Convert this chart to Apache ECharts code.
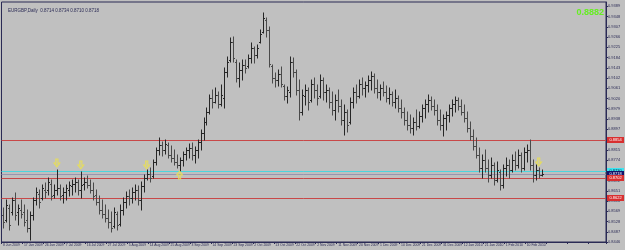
<!DOCTYPE html>
<html>
<head>
<meta charset="utf-8">
<script src="https://cdn.jsdelivr.net/npm/echarts@6/dist/echarts.min.js"></script>
<style>
  html, body { margin: 0; padding: 0; background: #c0c0c0; }
  #chart { width: 625px; height: 250px; }
</style>
</head>
<body>
<div id="chart"></div>
<script>
// EURGBP daily bars
var firstDay = '2009-06-08';
var holidays = ['2009-12-25', '2010-01-01'];
var emptySlots = 21; // chart shift on the right

var openVals = [
  0.8554,0.8534,0.8582,0.8566,0.8614,0.8566,0.8574,0.8566,0.8534,0.8502,
  0.8554,0.8614,0.8638,0.8622,0.8654,0.8654,0.8678,0.8634,0.8654,0.8662,
  0.8634,0.8646,0.8654,0.8670,0.8678,0.8686,0.8654,0.8678,0.8686,0.8674,
  0.8654,0.8634,0.8606,0.8574,0.8558,0.8542,0.8526,0.8510,0.8558,0.8518,
  0.8574,0.8606,0.8630,0.8622,0.8646,0.8654,0.8614,0.8670,0.8702,0.8718,
  0.8710,0.8766,0.8814,0.8834,0.8814,0.8834,0.8794,0.8782,0.8766,0.8754,
  0.8774,0.8798,0.8814,0.8822,0.8794,0.8814,0.8846,0.8882,0.8926,0.8966,
  0.9022,0.9006,0.9034,0.8998,0.9022,0.9126,0.9174,0.9246,0.9166,0.9102,
  0.9134,0.9154,0.9150,0.9182,0.9222,0.9194,0.9246,0.9286,0.9334,0.9294,
  0.9150,0.9102,0.9094,0.9118,0.9070,0.9030,0.9046,0.9166,0.9126,0.9054,
  0.8966,0.9030,0.9054,0.9014,0.9078,0.9054,0.9030,0.9094,0.9046,0.9054,
  0.9006,0.8974,0.9014,0.8990,0.8934,0.8966,0.8926,0.9006,0.9046,0.9030,
  0.9078,0.9062,0.9074,0.9094,0.9110,0.9062,0.9046,0.9062,0.9046,0.9022,
  0.9038,0.9006,0.9022,0.8982,0.8966,0.8934,0.8914,0.8902,0.8926,0.8910,
  0.8950,0.8982,0.8998,0.9014,0.8990,0.8974,0.8934,0.8914,0.8942,0.8954,
  0.8982,0.8998,0.9014,0.8990,0.8966,0.8942,0.8902,0.8870,0.8830,0.8794,
  0.8742,0.8774,0.8742,0.8714,0.8754,0.8694,0.8726,0.8674,0.8742,0.8754,
  0.8734,0.8774,0.8754,0.8794,0.8742,0.8806,0.8814,0.8754,0.8714,0.8734,0.8714
];
var highVals = [
  0.8582,0.8614,0.8594,0.8622,0.8642,0.8594,0.8614,0.8594,0.8574,0.8566,
  0.8622,0.8662,0.8654,0.8674,0.8682,0.8702,0.8694,0.8674,0.8734,0.8674,
  0.8662,0.8674,0.8686,0.8694,0.8702,0.8694,0.8726,0.8702,0.8710,0.8694,
  0.8682,0.8654,0.8630,0.8614,0.8594,0.8574,0.8566,0.8582,0.8566,0.8594,
  0.8622,0.8646,0.8654,0.8662,0.8674,0.8670,0.8686,0.8714,0.8734,0.8742,
  0.8774,0.8822,0.8862,0.8846,0.8854,0.8842,0.8830,0.8814,0.8794,0.8782,
  0.8806,0.8822,0.8838,0.8842,0.8826,0.8854,0.8894,0.8942,0.8982,0.9034,
  0.9054,0.9062,0.9046,0.9074,0.9142,0.9186,0.9262,0.9266,0.9174,0.9162,
  0.9174,0.9174,0.9194,0.9242,0.9226,0.9234,0.9294,0.9362,0.9342,0.9306,
  0.9154,0.9122,0.9134,0.9146,0.9074,0.9066,0.9186,0.9182,0.9134,0.9094,
  0.9054,0.9074,0.9062,0.9094,0.9102,0.9074,0.9114,0.9102,0.9074,0.9062,
  0.9046,0.9034,0.9054,0.9014,0.8994,0.8974,0.9022,0.9062,0.9074,0.9094,
  0.9102,0.9086,0.9110,0.9126,0.9118,0.9094,0.9074,0.9086,0.9070,0.9062,
  0.9046,0.9054,0.9030,0.9014,0.8982,0.8966,0.8954,0.8942,0.8974,0.8966,
  0.8994,0.9014,0.9034,0.9026,0.9014,0.8994,0.8974,0.8954,0.8966,0.8994,
  0.9014,0.9026,0.9022,0.9014,0.8994,0.8966,0.8926,0.8894,0.8862,0.8822,
  0.8794,0.8814,0.8774,0.8782,0.8762,0.8766,0.8734,0.8754,0.8782,0.8774,
  0.8794,0.8806,0.8814,0.8802,0.8822,0.8834,0.8854,0.8774,0.8754,0.8742,0.8734
];
var lowVals = [
  0.8502,0.8526,0.8494,0.8554,0.8534,0.8514,0.8542,0.8510,0.8486,0.8454,
  0.8534,0.8594,0.8582,0.8614,0.8622,0.8634,0.8614,0.8622,0.8634,0.8614,
  0.8602,0.8614,0.8630,0.8634,0.8646,0.8634,0.8622,0.8654,0.8662,0.8642,
  0.8614,0.8594,0.8558,0.8542,0.8526,0.8502,0.8486,0.8502,0.8494,0.8510,
  0.8554,0.8582,0.8594,0.8602,0.8614,0.8594,0.8574,0.8646,0.8694,0.8686,
  0.8702,0.8754,0.8794,0.8790,0.8798,0.8782,0.8766,0.8754,0.8742,0.8730,
  0.8750,0.8774,0.8782,0.8774,0.8762,0.8782,0.8814,0.8854,0.8914,0.8958,
  0.8982,0.9002,0.8982,0.8990,0.8982,0.9106,0.9166,0.9166,0.9086,0.9066,
  0.9094,0.9122,0.9142,0.9162,0.9162,0.9182,0.9242,0.9282,0.9266,0.9146,
  0.9082,0.9066,0.9070,0.9066,0.9014,0.9002,0.9026,0.9106,0.9034,0.8934,
  0.8954,0.8994,0.8974,0.9006,0.9022,0.8994,0.9022,0.9014,0.9006,0.8982,
  0.8954,0.8934,0.8966,0.8914,0.8874,0.8886,0.8918,0.8982,0.9002,0.9022,
  0.9034,0.9026,0.9046,0.9054,0.9042,0.9022,0.9014,0.9030,0.9006,0.8998,
  0.8990,0.8982,0.8966,0.8942,0.8914,0.8894,0.8882,0.8874,0.8894,0.8902,
  0.8926,0.8942,0.8966,0.8974,0.8954,0.8914,0.8894,0.8870,0.8894,0.8926,
  0.8950,0.8966,0.8974,0.8954,0.8926,0.8886,0.8854,0.8814,0.8782,0.8726,
  0.8702,0.8726,0.8686,0.8702,0.8674,0.8686,0.8654,0.8662,0.8710,0.8702,
  0.8726,0.8734,0.8742,0.8726,0.8734,0.8766,0.8734,0.8686,0.8694,0.8702,0.8710
];
var closeVals = [
  0.8526,0.8594,0.8514,0.8614,0.8554,0.8582,0.8558,0.8526,0.8502,0.8554,
  0.8614,0.8646,0.8606,0.8662,0.8646,0.8686,0.8630,0.8654,0.8662,0.8630,
  0.8646,0.8662,0.8674,0.8678,0.8686,0.8654,0.8674,0.8686,0.8674,0.8654,
  0.8630,0.8606,0.8574,0.8558,0.8542,0.8526,0.8502,0.8566,0.8514,0.8574,
  0.8606,0.8630,0.8622,0.8646,0.8654,0.8614,0.8670,0.8702,0.8718,0.8702,
  0.8766,0.8814,0.8834,0.8814,0.8838,0.8794,0.8782,0.8766,0.8754,0.8774,
  0.8798,0.8814,0.8822,0.8794,0.8814,0.8846,0.8882,0.8926,0.8966,0.9022,
  0.9006,0.9034,0.8998,0.9034,0.9126,0.9166,0.9246,0.9182,0.9102,0.9134,
  0.9154,0.9142,0.9182,0.9222,0.9194,0.9222,0.9278,0.9342,0.9294,0.9158,
  0.9102,0.9094,0.9118,0.9078,0.9030,0.9054,0.9166,0.9126,0.9054,0.8966,
  0.9034,0.9054,0.9006,0.9078,0.9054,0.9022,0.9094,0.9046,0.9054,0.9006,
  0.8974,0.9014,0.8990,0.8934,0.8966,0.8914,0.9006,0.9046,0.9030,0.9078,
  0.9062,0.9074,0.9094,0.9110,0.9062,0.9046,0.9062,0.9046,0.9022,0.9038,
  0.9006,0.9022,0.8982,0.8966,0.8934,0.8914,0.8902,0.8926,0.8910,0.8950,
  0.8982,0.8998,0.9014,0.8990,0.8974,0.8934,0.8914,0.8942,0.8954,0.8982,
  0.8998,0.9014,0.8990,0.8966,0.8942,0.8902,0.8870,0.8830,0.8794,0.8742,
  0.8774,0.8742,0.8714,0.8754,0.8694,0.8734,0.8674,0.8742,0.8754,0.8734,
  0.8774,0.8754,0.8794,0.8742,0.8806,0.8814,0.8754,0.8714,0.8734,0.8714,0.8718
];

// horizontal levels: red, cyan, last price, red, red
var levelVals = [0.8854, 0.8730, 0.8718, 0.8702, 0.8622];
var levelKinds = ['red', 'cyan', 'last', 'red', 'red'];

// arrow objects [bar index, price]
var arrowsDown = [[18, 0.8762], [26, 0.8754], [48, 0.8754], [179, 0.8766]];
var arrowsUp = [[59, 0.8714]];

var titleText = 'EURGBP,Daily  0.8714 0.8734 0.8710 0.8718';
var cornerText = '0.8882';

// price axis
var yMin = 0.8446, yMax = 0.9406, yStep = 0.0041;

// 日期（工作日）
var months = ['Jan','Feb','Mar','Apr','May','Jun','Jul','Aug','Sep','Oct','Nov','Dec'];
function buildDates(n) {
  var out = [];
  var d = new Date(firstDay + 'T00:00:00Z');
  while (out.length < n) {
    var iso = d.toISOString().slice(0, 10);
    var wd = d.getUTCDay();
    if (wd !== 0 && wd !== 6 && holidays.indexOf(iso) < 0) {
      out.push(d.getUTCDate() + ' ' + months[d.getUTCMonth()] + ' ' + d.getUTCFullYear());
    }
    d.setUTCDate(d.getUTCDate() + 1);
  }
  return out;
}
var dates = buildDates(openVals.length);
for (var k = 0; k < emptySlots; k++) dates.push('');

var ohlc = openVals.map(function (o, i) {
  return [i, o, highVals[i], lowVals[i], closeVals[i]];
});
var levels = levelVals.map(function (v, i) { return [0, v, i]; });

var kindStyle = {
  red:  { line: '#c84848', box: '#d83030', text: '#ffffff' },
  cyan: { line: '#4cd6de', box: '#3ce4f0', text: '#0a2a4a' },
  last: { line: '#9896b0', box: '#12126a', text: '#ffffff' }
};

var myChart = echarts.init(document.getElementById('chart'), null, { renderer: 'canvas' });

var axisColor = '#2a2a55';
var font = 'Liberation Sans';
var arrowStyle = { color: 'rgba(235,225,90,0.45)', borderColor: '#ece24a', borderWidth: 1 };

myChart.setOption({
  animation: false,
  backgroundColor: '#c0c0c0',
  title: [
    {
      text: titleText, left: 3, top: 3,
      textStyle: { fontSize: 4.5, color: axisColor, fontWeight: 'normal', fontFamily: font }
    },
    {
      text: cornerText, right: 16, top: 3,
      textStyle: { fontSize: 9, color: '#66ee22', fontWeight: 'bold', fontFamily: font }
    }
  ],
  grid: {
    left: 1, right: 19, top: 2, bottom: 8,
    show: true, borderColor: axisColor, borderWidth: 1, backgroundColor: 'transparent'
  },
  xAxis: {
    type: 'category',
    data: dates,
    boundaryGap: true,
    axisLine: { show: true, lineStyle: { color: axisColor, width: 1 } },
    axisTick: { show: true, interval: 6, length: 2, lineStyle: { color: axisColor } },
    axisLabel: {
      show: true, interval: 6, align: 'left', margin: 2, hideOverlap: false,
      fontSize: 3.4, color: axisColor, fontFamily: font
    },
    splitLine: { show: false }
  },
  yAxis: {
    type: 'value',
    position: 'right',
    min: yMin, max: yMax, interval: yStep,
    axisLine: { show: true, lineStyle: { color: axisColor, width: 1 } },
    axisTick: { show: true, length: 2, lineStyle: { color: axisColor } },
    axisLabel: {
      show: true, margin: 2, fontSize: 4, color: axisColor, fontFamily: font,
      showMaxLabel: false,
      formatter: function (v) { return v.toFixed(4); }
    },
    splitLine: { show: false }
  },
  series: [
    {
      // 水平线 + 价格标签
      type: 'custom',
      data: levels,
      encode: { x: 0, y: 1 },
      clip: false,
      silent: true,
      z: 1,
      renderItem: function (params, api) {
        var cs = params.coordSys;
        var v = api.value(1);
        var y = Math.round(api.coord([0, v])[1]) + 0.5;
        var s = kindStyle[levelKinds[api.value(2)]];
        var xr = cs.x + cs.width;
        return {
          type: 'group',
          children: [
            { type: 'line', shape: { x1: cs.x, y1: y, x2: xr, y2: y }, style: { stroke: s.line, lineWidth: 1 } },
            { type: 'rect', shape: { x: xr + 1, y: y - 3.5, width: 17, height: 6 }, style: { fill: s.box } },
            { type: 'text', x: xr + 9.5, y: y - 0.5,
              style: { text: v.toFixed(4), fill: s.text, fontSize: 4, fontFamily: font, align: 'center', verticalAlign: 'middle' } }
          ]
        };
      }
    },
    {
      // OHLC 柱
      type: 'custom',
      data: ohlc,
      encode: { x: 0, y: [1, 2, 3, 4] },
      z: 2,
      renderItem: function (params, api) {
        var i = api.value(0);
        var o = api.coord([i, api.value(1)]);
        var h = api.coord([i, api.value(2)]);
        var l = api.coord([i, api.value(3)]);
        var c = api.coord([i, api.value(4)]);
        var px = Math.round(h[0]) + 0.5;
        var col = api.value(4) >= api.value(1) ? '#262626' : '#4a4a4a';
        var st = { stroke: col, lineWidth: 1 };
        return {
          type: 'group',
          children: [
            { type: 'line', shape: { x1: px, y1: h[1] - 0.5, x2: px, y2: l[1] + 0.5 }, style: st },
            { type: 'line', shape: { x1: px - 1.5, y1: Math.round(o[1]) + 0.5, x2: px, y2: Math.round(o[1]) + 0.5 }, style: st },
            { type: 'line', shape: { x1: px, y1: Math.round(c[1]) + 0.5, x2: px + 1.5, y2: Math.round(c[1]) + 0.5 }, style: st }
          ]
        };
      }
    },
    {
      type: 'scatter',
      data: arrowsDown,
      symbol: 'path://M3,0 L7,0 L7,5 L10,5 L5,10 L0,5 L3,5 Z',
      symbolSize: [6, 8],
      itemStyle: arrowStyle,
      z: 3,
      silent: true
    },
    {
      type: 'scatter',
      data: arrowsUp,
      symbol: 'path://M5,0 L10,5 L7,5 L7,10 L3,10 L3,5 L0,5 Z',
      symbolSize: [6, 8],
      itemStyle: arrowStyle,
      z: 3,
      silent: true
    }
  ]
});
</script>
</body>
</html>
